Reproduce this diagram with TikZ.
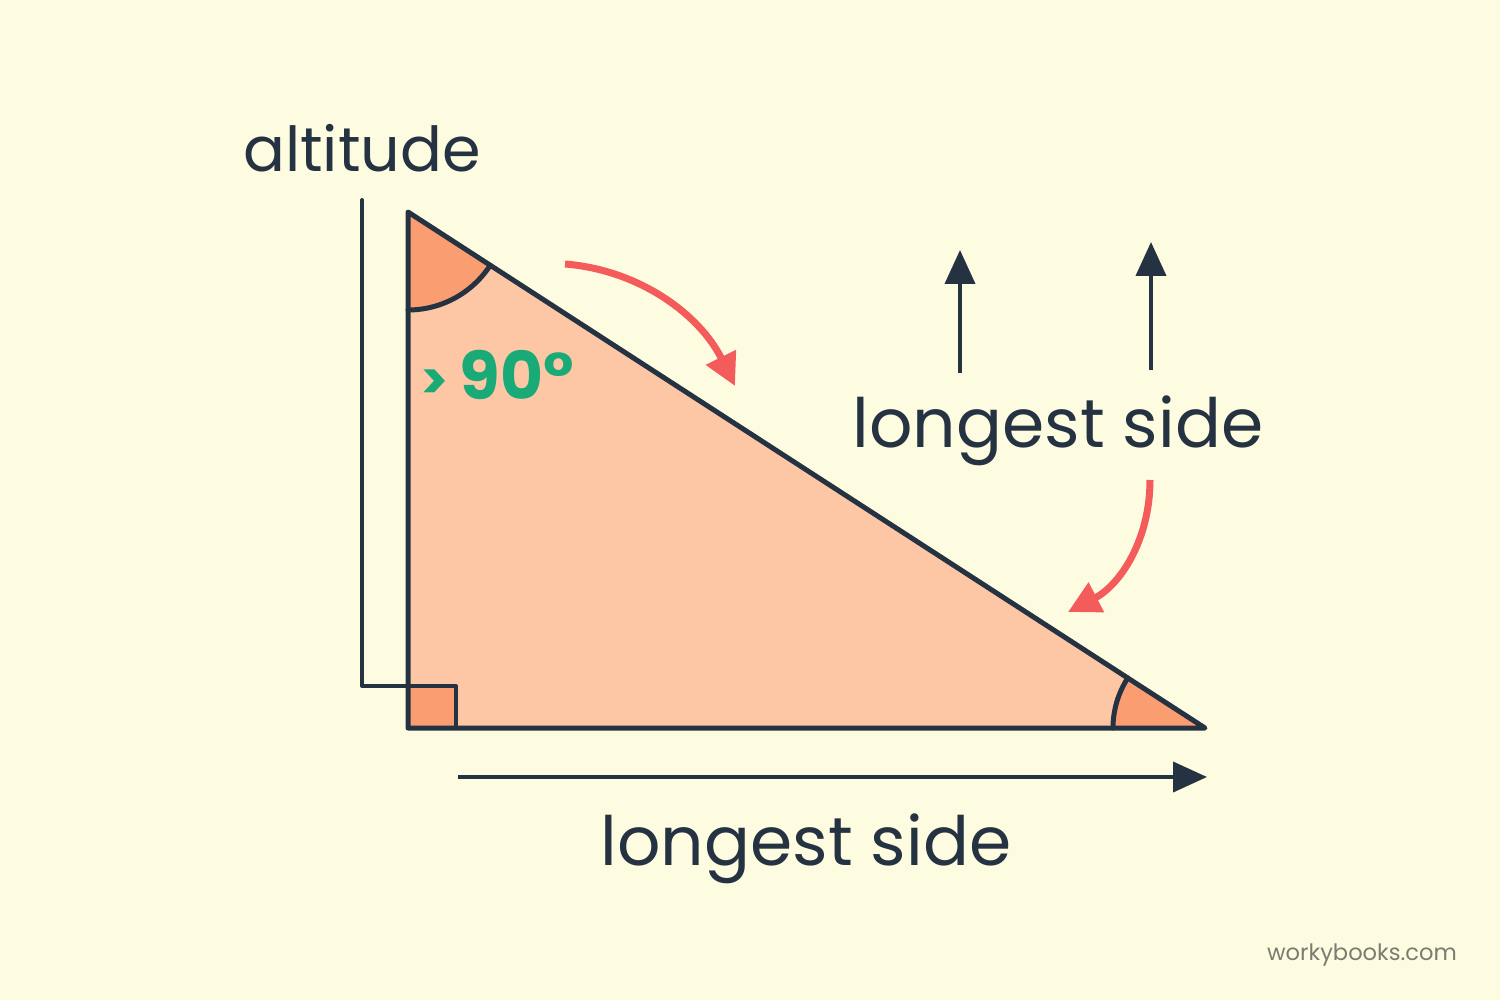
\documentclass[tikz,border=0pt]{standalone}
\usepackage{fontspec}
\setmainfont{Poppins}
\usetikzlibrary{arrows.meta}
\definecolor{bg}{HTML}{FEFCE0}
\definecolor{ink}{HTML}{253241}
\definecolor{peach}{HTML}{FDC7A6}
\definecolor{deep}{HTML}{FA9D70}
\definecolor{redarrow}{HTML}{F45B5B}
\definecolor{greentxt}{HTML}{1AAA78}
\definecolor{markgray}{HTML}{7B7B72}
\tikzset{
  outline/.style={draw=ink, line width=2.5pt, line join=round, line cap=round},
  bigtext/.style={text=ink, font=\fontsize{34}{40}\selectfont, inner sep=0pt, anchor=base},
  blackarrow/.style={draw=ink, line width=2pt, -{Triangle[length=17pt,width=15pt]}},
  redarrowstyle/.style={draw=redarrow, line width=3.5pt, -{Triangle[length=16pt,width=16pt]}}
}
\begin{document}
\begin{tikzpicture}[x=0.5pt,y=-0.5pt]
\fill[bg] (0,0) rectangle (1500,1000);
\useasboundingbox (0,0) rectangle (1500,1000);
\coordinate (A) at (408,212);
\coordinate (B) at (408,728);
\coordinate (C) at (1205,728);
% fills
\fill[peach] (A) -- (B) -- (C) -- cycle;
\fill[deep] (A) -- (408,310) arc[start angle=90,end angle=32.92,radius=98] -- cycle;
\fill[deep] (C) -- (1113,728) arc[start angle=180,end angle=212.92,radius=92] -- cycle;
\fill[deep] (408,686) rectangle (456,728);
% outlines
\draw[outline] (408,310) arc[start angle=90,end angle=32.92,radius=98];
\draw[outline] (1113,728) arc[start angle=180,end angle=212.92,radius=92];
\draw[outline, line width=2pt] (456,728) -- (456,686) -- (362,686) -- (362,200);
\draw[outline] (A) -- (B) -- (C) -- cycle;
% texts
\node[bigtext, font=\fontsize{31}{36}\selectfont] (alt) at (362,172) {altitude};
\node[bigtext] (ls1) at (1058,447) {longest side};
\node[bigtext] (ls2) at (806,865) {longest side};
\node[text=greentxt, font=\fontsize{33}{38}\selectfont\bfseries, inner sep=0pt, anchor=base] (ang) at (497,400) {{\fontsize{26}{30}\selectfont >}\,90°};
\node[text=markgray, font=\fontsize{11.3}{14}\selectfont, inner sep=0pt] (wb) at (1362,955) {workybooks.com};
% arrows
\coordinate (u1s) at (960,373); \coordinate (u1e) at (960,250);
\coordinate (u2s) at (1151,370); \coordinate (u2e) at (1151,242);
\coordinate (bs) at (458,777); \coordinate (be) at (1207,777);
\draw[blackarrow] (u1s) -- (u1e);
\draw[blackarrow] (u2s) -- (u2e);
\draw[blackarrow] (bs) -- (be);
\coordinate (r1s) at (565,264); \coordinate (r1e) at (735,386);
\draw[redarrowstyle] (r1s) .. controls (640,270) and (700,315) .. (r1e);
\coordinate (r2s) at (1150,480); \coordinate (r2e) at (1068,612);
\draw[redarrowstyle] (r2s) .. controls (1150,540) and (1120,585) .. (r2e);
\end{tikzpicture}
\end{document}
